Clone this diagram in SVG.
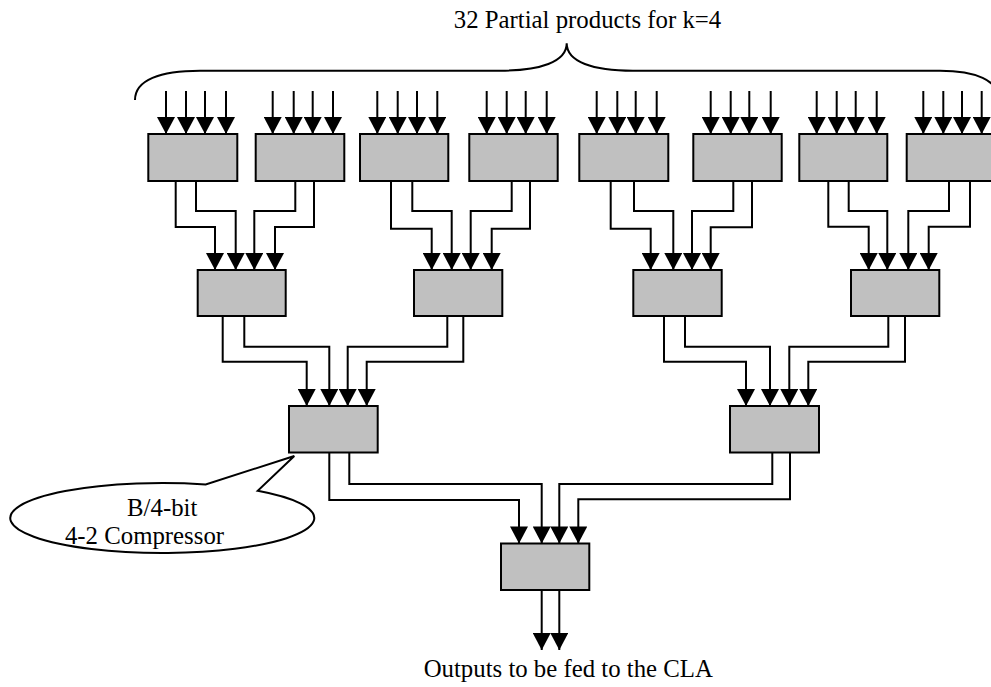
<svg xmlns="http://www.w3.org/2000/svg" width="991" height="687" viewBox="0 0 991 687">
  <style>
    .box { fill: #c0c0c0; stroke: #000; stroke-width: 2; }
    .wire { fill: none; stroke: #000; stroke-width: 2; }
    .arrow { fill: none; stroke: #000; stroke-width: 2; marker-end: url(#head); }
    .label { font-family: "Liberation Serif", "Times New Roman", serif; font-size: 24.8px; fill: #000; }
  </style>
  <defs>
    <marker id="head" markerUnits="userSpaceOnUse" markerWidth="18" markerHeight="18" viewBox="0 0 17 18" refX="17" refY="9" orient="auto">
      <path d="M0,0 L17,9 L0,18 Z" fill="#000"/>
    </marker>
  </defs>
  <rect width="991" height="687" fill="#fff"/>

  <!-- brace over the partial-product inputs -->
  <g id="brace">
    <path class="wire" d="M 135 100 C 135 80, 160 70.7, 200 70.7 L 500 70.7 C 540 70.7, 566.7 62, 566.7 43.3 C 566.7 62, 593 70.7, 633 70.7 L 940 70.7 C 975 70.7, 999 80, 999 100"/>
    <text class="label" x="587.5" y="28" text-anchor="middle">32 Partial products for k=4</text>
  </g>

  <!-- connectors -->
  <g id="connectors">
    <!-- partial product inputs -->
    <path class="arrow" d="M166 91 V134"/><path class="arrow" d="M186 91 V134"/><path class="arrow" d="M205 91 V134"/><path class="arrow" d="M226 91 V134"/>
    <path class="arrow" d="M272.7 91 V134"/><path class="arrow" d="M293.7 91 V134"/><path class="arrow" d="M312.7 91 V134"/><path class="arrow" d="M333 91 V134"/>
    <path class="arrow" d="M377.3 91 V134"/><path class="arrow" d="M397.7 91 V134"/><path class="arrow" d="M417 91 V134"/><path class="arrow" d="M437.3 91 V134"/>
    <path class="arrow" d="M486.7 91 V134"/><path class="arrow" d="M506.7 91 V134"/><path class="arrow" d="M525.7 91 V134"/><path class="arrow" d="M546.7 91 V134"/>
    <path class="arrow" d="M596.7 91 V134"/><path class="arrow" d="M617.3 91 V134"/><path class="arrow" d="M635.7 91 V134"/><path class="arrow" d="M656.7 91 V134"/>
    <path class="arrow" d="M710.7 91 V134"/><path class="arrow" d="M730.7 91 V134"/><path class="arrow" d="M749.3 91 V134"/><path class="arrow" d="M770.7 91 V134"/>
    <path class="arrow" d="M816.7 91 V134"/><path class="arrow" d="M836.7 91 V134"/><path class="arrow" d="M855.7 91 V134"/><path class="arrow" d="M876.7 91 V134"/>
    <path class="arrow" d="M923.3 91 V134"/><path class="arrow" d="M943.3 91 V134"/><path class="arrow" d="M962 91 V134"/><path class="arrow" d="M981.7 91 V134"/>

    <!-- level 1 to level 2 -->
    <path class="arrow" d="M175.7 181 V227 H215 V270"/>
    <path class="arrow" d="M196 181 V211 H235.7 V270"/>
    <path class="arrow" d="M295.3 181 V211 H254.3 V270"/>
    <path class="arrow" d="M314 181 V227 H275 V270"/>

    <path class="arrow" d="M391 181 V228.7 H431.7 V270"/>
    <path class="arrow" d="M412.3 181 V211 H451.7 V270"/>
    <path class="arrow" d="M511.7 181 V211 H470.7 V270"/>
    <path class="arrow" d="M530 181 V228.7 H491.7 V270"/>

    <path class="arrow" d="M610.7 181 V228.7 H650.7 V270"/>
    <path class="arrow" d="M634 181 V211 H673.3 V270"/>
    <path class="arrow" d="M733.3 181 V211 H692 V270"/>
    <path class="arrow" d="M752 181 V227.3 H710.7 V270"/>

    <path class="arrow" d="M828.3 181 V226.7 H868.7 V270"/>
    <path class="arrow" d="M848.7 181 V211 H887.3 V270"/>
    <path class="arrow" d="M949 181 V211 H908.3 V270"/>
    <path class="arrow" d="M970 181 V226.7 H928.7 V270"/>

    <!-- level 2 to level 3 -->
    <path class="arrow" d="M222.7 316 V361.7 H306.7 V406"/>
    <path class="arrow" d="M244.3 316 V346.7 H329.3 V406"/>
    <path class="arrow" d="M447.3 316 V346.7 H347.7 V406"/>
    <path class="arrow" d="M463.3 316 V361.7 H366.7 V406"/>

    <path class="arrow" d="M664 316 V361.7 H746 V406"/>
    <path class="arrow" d="M685 316 V346.7 H770 V406"/>
    <path class="arrow" d="M888.3 316 V346.7 H789.3 V406"/>
    <path class="arrow" d="M905 316 V361.7 H808.3 V406"/>

    <!-- level 3 to final stage -->
    <path class="arrow" d="M329.3 452.5 V500 H519 V543.5"/>
    <path class="arrow" d="M349.3 452.5 V484 H541.7 V543.5"/>
    <path class="arrow" d="M772.3 452.5 V484 H559.3 V543.5"/>
    <path class="arrow" d="M790 452.5 V499.3 H578.3 V543.5"/>

    <!-- outputs to the CLA -->
    <path class="arrow" d="M541.7 590 V650"/>
    <path class="arrow" d="M559.3 590 V650"/>
  </g>

  <!-- level 1 compressors -->
  <g id="c1-1"><rect class="box" x="148.3" y="134" width="89" height="47"/></g>
  <g id="c1-2"><rect class="box" x="255.7" y="134" width="88.6" height="47"/></g>
  <g id="c1-3"><rect class="box" x="360" y="134" width="88.3" height="47"/></g>
  <g id="c1-4"><rect class="box" x="469.3" y="134" width="88.4" height="47"/></g>
  <g id="c1-5"><rect class="box" x="579.3" y="134" width="89" height="47"/></g>
  <g id="c1-6"><rect class="box" x="693.3" y="134" width="88.4" height="47"/></g>
  <g id="c1-7"><rect class="box" x="799.3" y="134" width="88" height="47"/></g>
  <g id="c1-8"><rect class="box" x="906.7" y="134" width="89" height="47"/></g>

  <!-- level 2 compressors -->
  <g id="c2-1"><rect class="box" x="197.7" y="270" width="88" height="46"/></g>
  <g id="c2-2"><rect class="box" x="414" y="270" width="88.3" height="46"/></g>
  <g id="c2-3"><rect class="box" x="633.3" y="270" width="88.4" height="46"/></g>
  <g id="c2-4"><rect class="box" x="851" y="270" width="88.3" height="46"/></g>

  <!-- level 3 compressors -->
  <g id="c3-1"><rect class="box" x="289" y="406" width="88.7" height="46.5"/></g>
  <g id="c3-2"><rect class="box" x="730" y="406" width="89" height="46.5"/></g>

  <!-- final compressor -->
  <g id="c4"><rect class="box" x="501" y="543.5" width="88.3" height="46.5"/></g>

  <!-- callout naming the compressor cell -->
  <g id="callout">
    <path d="M 257.7 490.8 A 152 35 0 1 1 205.7 484.5 L 294.3 456 Z" fill="#fff" stroke="#000" stroke-width="2" stroke-linejoin="miter"/>
    <text class="label" x="162.2" y="516" text-anchor="middle">B/4-bit</text>
    <text class="label" x="144.5" y="544" text-anchor="middle">4-2 Compressor</text>
  </g>

  <!-- output caption -->
  <g id="caption">
    <text class="label" x="568.3" y="677" text-anchor="middle">Outputs to be fed to the CLA</text>
  </g>
</svg>
